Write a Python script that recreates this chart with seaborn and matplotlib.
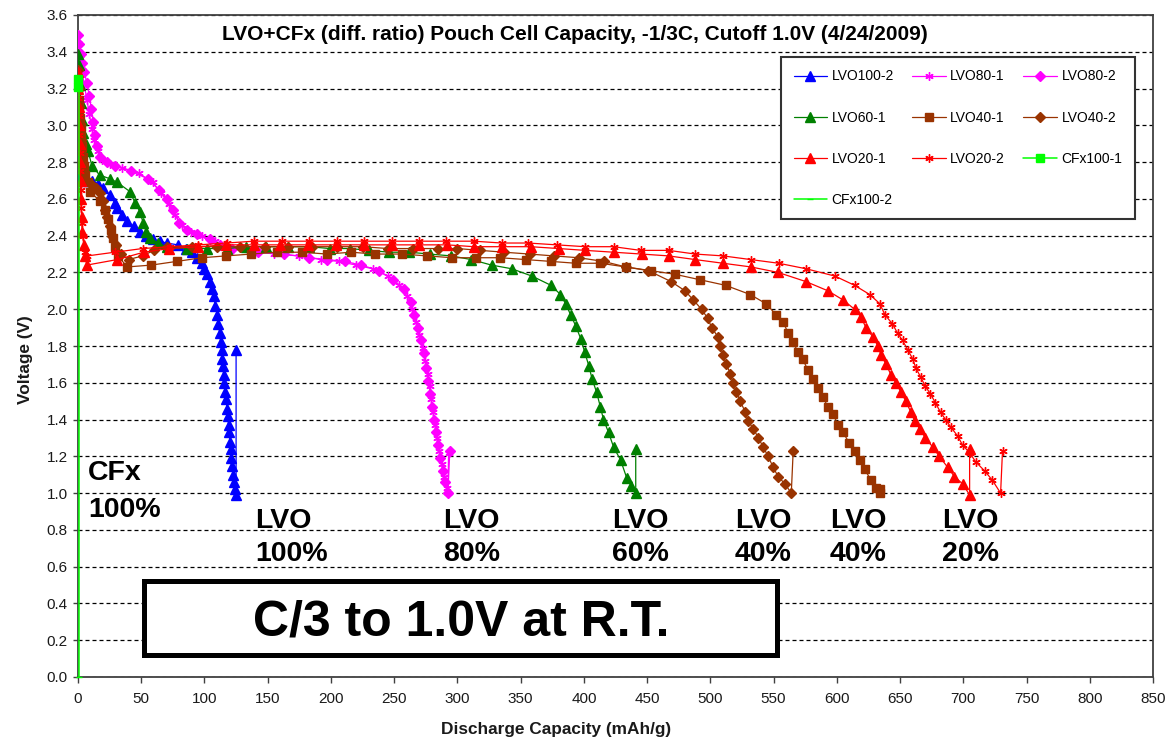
import matplotlib
matplotlib.use("Agg")
import matplotlib.pyplot as plt
from matplotlib.patches import Rectangle
import pandas as pd
import seaborn as sns

# ---------------------------------------------------------------- data
# discharge curves: (capacity mAh/g, voltage V); the last point of each LVO
# curve is the open-circuit rebound after the 1.0 V cutoff
lvo100_2 = [(0, 2.73), (3, 2.71), (7, 2.70), (11, 2.70), (16, 2.68), (20, 2.66), (25, 2.62),
            (29, 2.58), (31, 2.55), (35, 2.51), (39, 2.48), (44, 2.45), (49, 2.42), (54, 2.40),
            (59, 2.38), (65, 2.37), (70, 2.36), (79, 2.35), (85, 2.33), (90, 2.31), (94, 2.28),
            (98, 2.25), (100, 2.22), (102, 2.19), (104, 2.15), (106, 2.11), (107.5, 2.07),
            (108.5, 2.02), (110, 1.97), (111, 1.92), (112, 1.87), (112.8, 1.82), (113.5, 1.78),
            (114, 1.73), (114.6, 1.69), (115.2, 1.64), (115.8, 1.60), (116.5, 1.55), (117.2, 1.51),
            (117.8, 1.46), (118.4, 1.42), (119, 1.37), (119.5, 1.33), (120, 1.28), (120.6, 1.24),
            (121.2, 1.19), (121.8, 1.15), (122.5, 1.10), (123.3, 1.06), (124.2, 1.02), (125, 0.99),
            (125, 1.78)]

lvo80_1 = [(0, 3.45), (1.5, 3.38), (3, 3.30), (5, 3.22), (7, 3.14), (9, 3.06), (11, 2.98),
           (13, 2.92), (15.5, 2.86), (19, 2.81), (25, 2.79), (35, 2.77), (48, 2.74), (59, 2.69),
           (66, 2.63), (72, 2.57), (77, 2.51), (82, 2.46), (89, 2.42), (98, 2.40), (108, 2.37),
           (118, 2.34), (135, 2.32), (155, 2.30), (175, 2.29), (192, 2.27), (206, 2.26),
           (220, 2.24), (233, 2.22), (245, 2.18), (254, 2.13), (260, 2.07), (264, 2.00),
           (267, 1.93), (270, 1.86), (272.5, 1.79), (274.5, 1.72), (276.5, 1.65), (278, 1.58),
           (279.5, 1.51), (281, 1.44), (282.5, 1.37), (284, 1.30), (285.5, 1.23), (287.5, 1.16),
           (289.5, 1.09), (291.5, 1.03), (292.5, 1.00), (293, 1.22)]

lvo80_2 = [(0, 3.49), (1, 3.44), (2.5, 3.39), (3.5, 3.34), (5, 3.29), (7, 3.23), (9, 3.16),
           (10.5, 3.09), (12, 3.02), (13.5, 2.95), (15, 2.89), (17.5, 2.83), (23, 2.80),
           (29, 2.78), (42, 2.75), (55, 2.71), (64, 2.65), (70, 2.60), (75, 2.54), (80, 2.47),
           (86, 2.43), (94, 2.41), (104, 2.38), (112, 2.35), (122, 2.33), (142, 2.31), (163, 2.30),
           (183, 2.28), (197, 2.27), (211, 2.26), (224, 2.24), (238, 2.21), (249, 2.16),
           (258, 2.11), (263, 2.04), (266, 1.97), (269, 1.90), (271.5, 1.83), (273.5, 1.76),
           (275.5, 1.68), (277, 1.61), (278.5, 1.54), (280, 1.47), (281.5, 1.40), (283, 1.33),
           (284.5, 1.26), (286.5, 1.19), (288.5, 1.12), (290.5, 1.06), (292.5, 1.00), (294, 1.23)]

lvo60_1 = [(0, 3.39), (0.8, 3.33), (1.5, 3.22), (2.3, 3.12), (3, 3.03), (4, 2.96), (6, 2.90),
           (8, 2.86), (11, 2.78), (17, 2.73), (25, 2.71), (31, 2.69), (41, 2.64), (45, 2.58),
           (49, 2.53), (51.5, 2.47), (54, 2.42), (57, 2.39), (63, 2.36), (70, 2.34), (86, 2.33),
           (102, 2.33), (118, 2.33), (133, 2.34), (149, 2.34), (166, 2.34), (183, 2.34),
           (199, 2.33), (215, 2.33), (230, 2.32), (246, 2.31), (262, 2.31), (278, 2.30),
           (295, 2.29), (311, 2.27), (327, 2.24), (343, 2.22), (359, 2.18), (374, 2.13),
           (381.5, 2.08), (385.5, 2.03), (389.5, 1.97), (393.5, 1.91), (397.5, 1.84),
           (400.5, 1.77), (404, 1.69), (406.5, 1.62), (410, 1.55), (413, 1.47), (415.5, 1.40),
           (419.5, 1.33), (423.5, 1.25), (429, 1.18), (434, 1.08), (437.5, 1.04), (441, 1.00),
           (441, 1.24)]

lvo40_1 = [(0, 3.20), (0.5, 3.14), (1, 3.09), (1.5, 3.04), (2, 2.99), (2.5, 2.94), (3, 2.89),
           (4, 2.83), (4.5, 2.78), (5.5, 2.73), (8, 2.69), (9.5, 2.64), (17, 2.59), (21, 2.54),
           (23.5, 2.49), (26, 2.43), (28, 2.39), (29.5, 2.34), (31.5, 2.29), (39, 2.23),
           (58, 2.24), (78, 2.26), (98, 2.28), (117, 2.29), (137, 2.30), (157, 2.31), (177, 2.31),
           (197, 2.30), (216, 2.31), (235, 2.30), (256, 2.30), (276, 2.29), (296, 2.28),
           (314.6, 2.28), (334, 2.28), (354, 2.27), (374, 2.26), (393.5, 2.25), (413, 2.25),
           (433, 2.23), (452.7, 2.21), (472, 2.19), (492, 2.16), (512, 2.13), (531.5, 2.08),
           (544, 2.03), (552, 1.97), (557.6, 1.93), (561.5, 1.87), (565.5, 1.82), (569, 1.77),
           (573, 1.73), (577, 1.67), (581, 1.62), (585, 1.57), (589, 1.52), (593, 1.47),
           (597, 1.43), (601, 1.37), (605, 1.33), (610, 1.27), (614, 1.23), (618, 1.18),
           (622, 1.13), (627, 1.07), (631, 1.03), (634, 1.00), (634.5, 1.02)]

lvo40_2 = [(0, 3.30), (0.5, 3.20), (1, 3.10), (1.5, 3.00), (2, 2.92), (2.5, 2.86), (3, 2.80),
           (4, 2.74), (6, 2.70), (10, 2.68), (14, 2.66), (17, 2.63), (19.5, 2.59), (21.5, 2.54),
           (23, 2.50), (25, 2.45), (27, 2.40), (30, 2.35), (34, 2.30), (40, 2.27), (51, 2.29),
           (60, 2.32), (70, 2.34), (90, 2.34), (110, 2.34), (128, 2.34), (148, 2.34), (166, 2.34),
           (185, 2.34), (205, 2.34), (225, 2.34), (245, 2.33), (265, 2.33), (285, 2.33),
           (300, 2.33), (318, 2.32), (337, 2.31), (357, 2.30), (376, 2.29), (396, 2.28),
           (415.6, 2.26), (433, 2.23), (451, 2.21), (469, 2.15), (480, 2.10), (486.6, 2.05),
           (493, 2.00), (498, 1.95), (501, 1.90), (506, 1.85), (508, 1.80), (510, 1.75),
           (512.6, 1.70), (515.8, 1.65), (518, 1.60), (520.5, 1.55), (523.7, 1.50), (527.6, 1.44),
           (530, 1.39), (534, 1.35), (538, 1.30), (541.8, 1.25), (545.7, 1.20), (549.7, 1.14),
           (553.6, 1.09), (559, 1.05), (564, 1.00), (565.5, 1.23)]

lvo20_1 = [(0, 3.29), (0.3, 3.20), (0.6, 3.10), (1, 3.00), (1.3, 2.90), (1.6, 2.80), (2, 2.70),
           (2.5, 2.60), (3, 2.50), (3.5, 2.42), (4.5, 2.35), (5.5, 2.29), (7, 2.24), (31, 2.27),
           (52, 2.31), (72, 2.33), (95, 2.34), (117, 2.35), (139, 2.35), (160, 2.35), (182, 2.35),
           (204, 2.35), (226, 2.35), (248, 2.35), (270, 2.35), (292, 2.35), (313, 2.34),
           (335, 2.34), (358, 2.34), (380, 2.33), (401, 2.32), (423.5, 2.31), (445.6, 2.30),
           (467, 2.29), (488, 2.27), (510, 2.25), (532, 2.23), (553.6, 2.20), (575.7, 2.15),
           (593, 2.10), (605, 2.05), (614, 2.00), (619, 1.96), (623, 1.90), (628.5, 1.85),
           (632.5, 1.80), (635, 1.75), (639, 1.70), (643, 1.64), (646.7, 1.60), (650.6, 1.55),
           (654.6, 1.50), (658.5, 1.44), (661.7, 1.39), (665.6, 1.35), (670, 1.30), (675.9, 1.25),
           (681, 1.20), (687.7, 1.14), (693, 1.09), (699.5, 1.05), (705, 0.99), (705, 1.24)]

lvo20_2 = [(0, 3.27), (0.3, 3.15), (0.6, 3.05), (1, 2.95), (1.3, 2.85), (1.6, 2.75), (2, 2.65),
           (2.5, 2.55), (3, 2.47), (4, 2.40), (5.5, 2.31), (7.5, 2.29), (29, 2.31), (51, 2.33),
           (72.5, 2.34), (95, 2.35), (117.5, 2.36), (139, 2.37), (161, 2.37), (183, 2.37),
           (205, 2.37), (226, 2.37), (248, 2.37), (270, 2.37), (291, 2.37), (313, 2.37),
           (335, 2.36), (356, 2.36), (378.5, 2.35), (401, 2.34), (423.5, 2.34), (444.8, 2.32),
           (467, 2.32), (488, 2.30), (510, 2.29), (532, 2.27), (554, 2.25), (575.7, 2.22),
           (598.6, 2.18), (614, 2.13), (626, 2.08), (634, 2.03), (638, 1.97), (644, 1.92),
           (648, 1.87), (652, 1.83), (656, 1.78), (660, 1.73), (662.5, 1.68), (666.4, 1.63),
           (670, 1.58), (674, 1.54), (678, 1.49), (682, 1.44), (686, 1.40), (690, 1.36),
           (695.6, 1.31), (699.5, 1.26), (705, 1.22), (709.8, 1.17), (717, 1.12), (723, 1.07),
           (729.5, 1.00), (731, 1.23)]

cfx100_1 = [(0, 3.25), (0, 3.21)]
cfx100_2 = [(0.4, 3.20), (0.4, 0.0)]

series_names = ["LVO100-2", "LVO80-1", "LVO80-2", "LVO60-1", "LVO40-1", "LVO40-2",
                "LVO20-1", "LVO20-2", "CFx100-1", "CFx100-2"]
series_data = [lvo100_2, lvo80_1, lvo80_2, lvo60_1, lvo40_1, lvo40_2,
               lvo20_1, lvo20_2, cfx100_1, cfx100_2]

# ---------------------------------------------------------------- styles
series_colors = ["#0000FF", "#FF00FF", "#FF00FF", "#008000", "#993300", "#993300",
                 "#FF0000", "#FF0000", "#00FF00", "#00FF00"]
series_markers = ["^", (6, 2, 0), "D", "^", "s", "D", "^", (6, 2, 0), "s", "_"]
series_msize = [6.5, 6, 4.8, 6.5, 5.5, 4.8, 6.5, 6, 5.5, 5]

curve_labels = [("CFx", "100%", 8), ("LVO", "100%", 140), ("LVO", "80%", 288.6),
                ("LVO", "60%", 422), ("LVO", "40%", 519.5), ("LVO", "40%", 594.6),
                ("LVO", "20%", 683)]

title = "LVO+CFx (diff. ratio) Pouch Cell Capacity, -1/3C, Cutoff 1.0V (4/24/2009)"
y_ticks = [round(0.2 * i, 1) for i in range(19)]
x_ticks = list(range(0, 851, 50))

# ---------------------------------------------------------------- figure
sns.set_style("ticks")
plt.rcParams["font.family"] = ["Liberation Sans", "DejaVu Sans"]
plt.rcParams["text.color"] = "black"
plt.rcParams["axes.labelcolor"] = "black"

fig = plt.figure(figsize=(11.69, 7.40), dpi=100)
ax = fig.add_axes([78 / 1169, 63 / 740, 1075 / 1169, 662 / 740])

handles = []
for name, pts, color, marker, ms in zip(series_names, series_data, series_colors,
                                        series_markers, series_msize):
    df = pd.DataFrame(pts, columns=["capacity", "voltage"])
    is_cfx = name.startswith("CFx")
    sns.lineplot(data=df, x="capacity", y="voltage", sort=False, estimator=None,
                 color=color, linewidth=1.1 if is_cfx else 0.9, marker=marker, markersize=ms,
                 markerfacecolor=color, markeredgecolor=color, markeredgewidth=1.0,
                 ax=ax, legend=False, zorder=3, clip_on=not is_cfx)
    handles.append(ax.lines[-1])

ax.set_xlim(0, 850)
ax.set_ylim(0, 3.6)
ax.set_xticks(x_ticks)
ax.set_yticks(y_ticks)
ax.set_yticklabels([f"{v:.1f}" for v in y_ticks])
ax.tick_params(axis="both", labelsize=11, colors="#1a1a1a", width=1.0, color="#404040")
ax.tick_params(axis="x", length=4.5, pad=6, direction="out")
ax.tick_params(axis="y", length=3.5, pad=4, direction="out")

ax.yaxis.grid(True, color="black", linewidth=0.9, linestyle=(0, (3.2, 2.4)), zorder=1)
ax.xaxis.grid(False)
ax.set_axisbelow(True)
for side in ["left", "right", "top", "bottom"]:
    ax.spines[side].set_color("#404040")
    ax.spines[side].set_linewidth(1.3)
ax.spines["left"].set_zorder(2)

ax.set_xlabel("Discharge Capacity (mAh/g)", fontsize=12.4, fontweight="bold", color="#1a1a1a")
ax.set_ylabel("Voltage (V)", fontsize=12.4, fontweight="bold", color="#1a1a1a")
ax.xaxis.set_label_coords(0.445, -0.068)
ax.yaxis.set_label_coords(-0.042, 0.48)

ax.text(0.462, 0.97, title, transform=ax.transAxes, ha="center", va="center",
        fontsize=15, fontweight="bold", color="black")

# curve annotations
for top, bottom, x in curve_labels:
    y_top, y_bot = (1.072, 0.871) if top == "CFx" else (0.811, 0.631)
    ax.text(x, y_top, top, ha="left", va="baseline", fontsize=20.5, fontweight="bold",
            color="black", zorder=5)
    ax.text(x, y_bot, bottom, ha="left", va="baseline", fontsize=20.5, fontweight="bold",
            color="black", zorder=5)

# boxed test-condition note
ax.add_patch(Rectangle((52.5, 0.117), 500.5, 0.407, facecolor="white", edgecolor="black",
                       linewidth=3.6, zorder=4))
ax.text(302.8, 0.2232, "C/3 to 1.0V at R.T.", ha="center", va="baseline", fontsize=36,
        fontweight="bold", color="black", zorder=5)

# legend laid out row by row in three columns
order = [0, 3, 6, 9, 1, 4, 7, 2, 5, 8]
leg = ax.legend([handles[i] for i in order], [series_names[i] for i in order], ncol=3,
                loc="upper left", bbox_to_anchor=(0.654, 0.9366), borderaxespad=0,
                frameon=True, fancybox=False, fontsize=10, labelspacing=1.95,
                columnspacing=1.3, handlelength=2.4, handletextpad=0.35, borderpad=0.9)
for txt in leg.get_texts():
    txt.set_color("black")
leg.get_frame().set_edgecolor("#333333")
leg.get_frame().set_linewidth(1.5)
leg.get_frame().set_alpha(1)
leg.set_zorder(6)

fig.savefig("out.png", dpi=100, facecolor="white")
